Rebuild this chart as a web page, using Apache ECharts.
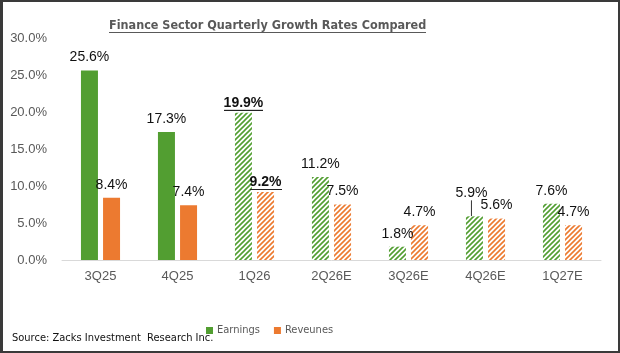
<!DOCTYPE html>
<html>
<head>
<meta charset="utf-8">
<script src="https://cdn.jsdelivr.net/npm/echarts@6/dist/echarts.min.js"></script>
<style>
  html, body { margin: 0; padding: 0; background: #fff; }
  #wrap { position: relative; width: 620px; height: 353px; }
  #chart { width: 620px; height: 353px; }
  #frame { position: absolute; left: 0; top: 0; width: 620px; height: 353px; box-sizing: border-box;
           border: 2px solid #3a3a3a; border-left-width: 3px; pointer-events: none; }
</style>
</head>
<body>
<div id="wrap">
  <div id="chart"></div>
  <div id="frame"></div>
</div>
<script>
const categories = ['3Q25', '4Q25', '1Q26', '2Q26E', '3Q26E', '4Q26E', '1Q27E'];
const earnings = [25.6, 17.3, 19.9, 11.2, 1.8, 5.9, 7.6];
const revenues = [8.4, 7.4, 9.2, 7.5, 4.7, 5.6, 4.7];
const firstEstimate = 2;   // bars from here on are hatched
const highlighted = 2;     // bold + underlined labels
const pointered = 5;       // earnings label pulled up with a leader line

const GREEN = '#529e31';
const ORANGE = '#ec7a30';
const NARROW = "'DejaVu Sans Condensed', 'Liberation Sans', sans-serif";

// diagonal stripe fill for the estimated quarters
function hatch(color) {
  const s = 5;
  const c = document.createElement('canvas');
  c.width = s; c.height = s;
  const ctx = c.getContext('2d');
  ctx.fillStyle = '#fff';
  ctx.fillRect(0, 0, s, s);
  ctx.strokeStyle = color;
  ctx.lineWidth = 1.6;
  ctx.beginPath();
  ctx.moveTo(-1, s + 1); ctx.lineTo(s + 1, -1);
  ctx.moveTo(-1, 1); ctx.lineTo(1, -1);
  ctx.moveTo(s - 1, s + 1); ctx.lineTo(s + 1, s - 1);
  ctx.stroke();
  return { image: c, repeat: 'repeat' };
}

// thin line at the bottom of a box, stretched under text
function underline(color) {
  const c = document.createElement('canvas');
  c.width = 40; c.height = 40;
  const ctx = c.getContext('2d');
  ctx.fillStyle = color;
  ctx.fillRect(0, 37, 40, 3);
  return { image: c };
}

function items(values, color, withPointer) {
  return values.map((v, i) => {
    const d = { value: v, itemStyle: { color: i >= firstEstimate ? hatch(color) : color } };
    if (withPointer && i === pointered) d.labelLine = { show: true, lineStyle: { color: '#333', width: 1 } };
    return d;
  });
}

const labelRich = {
  u: { fontWeight: 'bold', fontSize: 14, color: '#111', fontFamily: 'Liberation Sans',
       backgroundColor: underline('#222'), padding: [0, 0, 1, 0] }
};

function labelFmt(p) {
  const t = p.value.toFixed(1) + '%';
  return p.dataIndex === highlighted ? '{u|' + t + '}' : t;
}

const chart = echarts.init(document.getElementById('chart'));
chart.setOption({
  animation: false,
  backgroundColor: '#fff',
  title: {
    text: '{t|Finance Sector Quarterly Growth Rates Compared}',
    left: 104, top: 14,
    textStyle: {
      rich: {
        t: { fontFamily: NARROW, fontWeight: 'bold', fontSize: 12.5, color: '#595959',
             backgroundColor: underline('#595959'), padding: [0, 0, 1, 0] }
      }
    }
  },
  legend: {
    data: ['Earnings', 'Reveunes'],
    left: 201, top: 320,
    icon: 'rect', itemWidth: 7, itemHeight: 7, itemGap: 14,
    textStyle: { fontFamily: NARROW, fontSize: 11, color: '#595959', padding: [0, 0, 0, -1] }
  },
  graphic: [{
    type: 'text', left: 12, top: 333,
    style: { text: 'Source: Zacks Investment  Research Inc.', fontFamily: NARROW,
             fontSize: 11, fill: '#111' }
  }],
  grid: { left: 62, right: 19, top: 38, bottom: 93, containLabel: false },
  xAxis: {
    type: 'category',
    data: categories,
    axisLine: { lineStyle: { color: '#d9d9d9', width: 1 } },
    axisTick: { show: false },
    axisLabel: { color: '#595959', fontSize: 13, fontFamily: 'Liberation Sans', margin: 10 }
  },
  yAxis: {
    type: 'value',
    min: 0, max: 30, interval: 5,
    axisLine: { show: false },
    axisTick: { show: false },
    splitLine: { show: false },
    axisLabel: { color: '#595959', fontSize: 13, fontFamily: 'Liberation Sans', margin: 15,
                 formatter: v => v.toFixed(1) + '%' }
  },
  series: [
    {
      name: 'Earnings', type: 'bar',
      data: items(earnings, GREEN, true),
      itemStyle: { color: GREEN },
      barWidth: 17, barGap: '30%',
      label: { show: true, position: 'top', distance: 6, formatter: labelFmt, rich: labelRich,
               fontFamily: 'Liberation Sans', fontSize: 14, color: '#111' },
      labelLayout: p => (p.dataIndex === pointered ? { dx: -3, dy: -10 } : (p.dataIndex === highlighted ? { dy: 4 } : {}))
    },
    {
      name: 'Reveunes', type: 'bar',
      data: items(revenues, ORANGE, false),
      itemStyle: { color: ORANGE },
      barWidth: 17,
      label: { show: true, position: 'top', distance: 6, formatter: labelFmt, rich: labelRich,
               fontFamily: 'Liberation Sans', fontSize: 14, color: '#111' },
      labelLayout: p => (p.dataIndex === highlighted ? { dy: 4 } : {})
    }
  ]
});
</script>
</body>
</html>
